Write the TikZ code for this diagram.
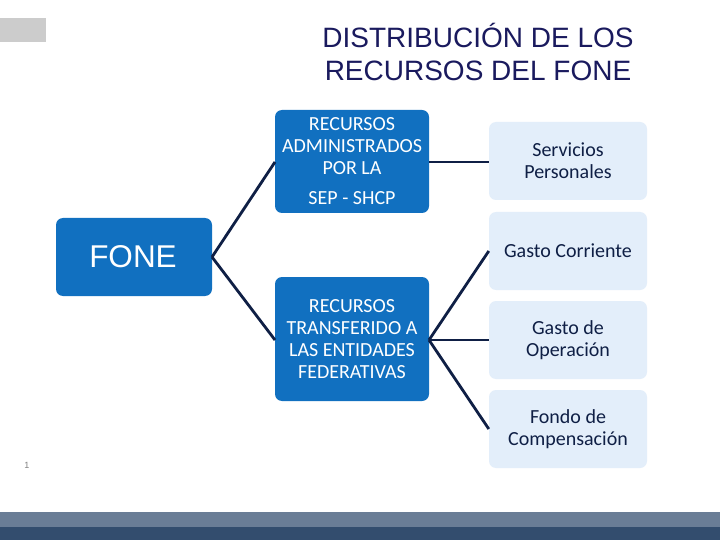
\documentclass[tikz,border=0pt]{standalone}
\usepackage{fontspec}
\setmainfont{Carlito}
\newfontfamily\arialf{Liberation Sans}
\definecolor{bblue}{HTML}{1170C0}
\definecolor{lblue}{HTML}{E3EEFA}
\definecolor{navy}{HTML}{0F1F45}
\definecolor{ttl}{HTML}{1A1A5E}
\definecolor{barA}{HTML}{6A7D96}
\definecolor{barB}{HTML}{334D6E}
\begin{document}
\begin{tikzpicture}[x=1pt,y=-1pt,
  bfont/.style={font=\fontsize{20}{22}\selectfont},
  bbox/.style={fill=bblue,rounded corners=7pt,text=white,align=center,inner sep=0pt,bfont},
  lbox/.style={fill=lblue,rounded corners=7pt,text=navy,align=center,inner sep=0pt,minimum width=158pt,minimum height=78pt,font=\fontsize{20}{22}\selectfont},
  con/.style={draw=navy,line width=2.8pt}]
\useasboundingbox (0,0) rectangle (720,540);
\fill[white] (0,0) rectangle (720,540);
\fill[gray!40] (0,18) rectangle (46,42);
\node[font=\arialf\fontsize{28}{33}\selectfont,text=ttl,align=center] (title) at (478,52) {DISTRIBUCIÓN DE LOS\\RECURSOS DEL FONE};
\node[bbox,minimum width=156pt,minimum height=78pt] (fone) at (134,257) {};
\node[font=\arialf\fontsize{31.5}{32}\selectfont,text=white] (fonet) at (133,257) {FONE};
\node[bbox,minimum width=154pt,minimum height=103pt] (b1) at (352,161.5) {};
\node[text=white,align=center,bfont] (b1t) at (352,146) {RECURSOS\\ADMINISTRADOS\\POR LA};
\node[text=white,bfont] (b1u) at (352,198) {SEP - SHCP};
\node[bbox,minimum width=154pt,minimum height=124pt] (b2) at (352,339) {RECURSOS\\TRANSFERIDO A\\LAS ENTIDADES\\FEDERATIVAS};
\node[lbox] (sp) at (568,161) {Servicios\\Personales};
\node[lbox] (gc) at (568,251) {Gasto Corriente};
\node[lbox] (go) at (568,340) {Gasto de\\Operación};
\node[lbox] (fc) at (568,429) {Fondo de\\Compensación};
\coordinate (fr) at (212,257);
\draw[con] (fr) -- (275,162);
\draw[con] (fr) -- (275,340);
\draw[con] (429,162) -- (sp.west |- 0,162);
\coordinate (b2r) at (429,340);
\draw[con] (b2r) -- (gc.west);
\draw[con] (b2r) -- (go.west);
\draw[con] (b2r) -- (fc.west);
\node[font=\arialf\fontsize{9}{9}\selectfont,text=gray] (pg) at (27,465) {1};
\fill[barA] (0,512) rectangle (720,527);
\fill[barB] (0,527) rectangle (720,540);
\end{tikzpicture}
\end{document}
